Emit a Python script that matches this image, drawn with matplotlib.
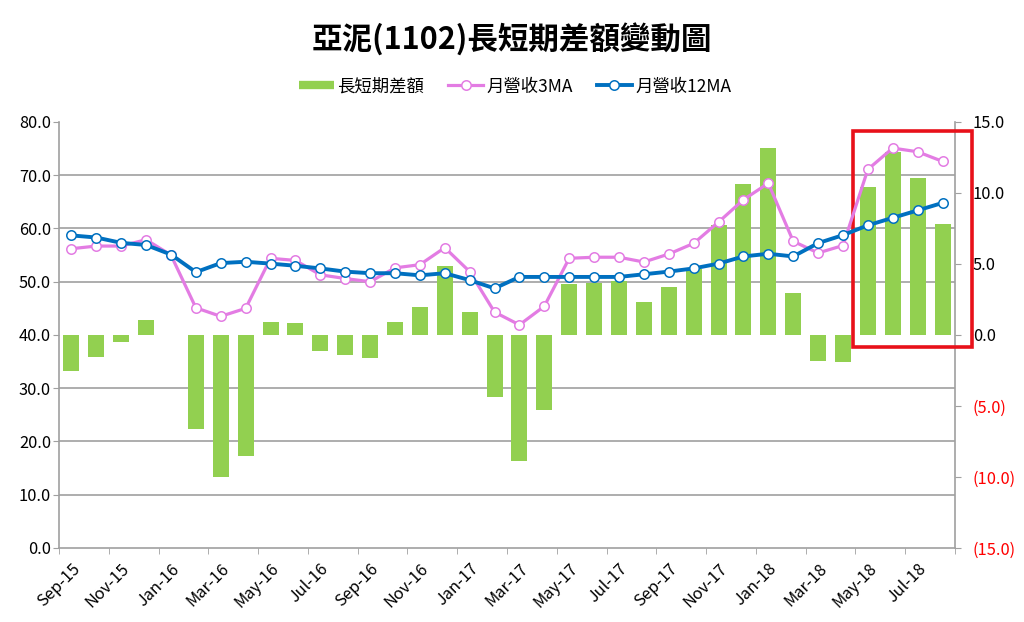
import matplotlib
matplotlib.use('Agg')
import matplotlib.pyplot as plt
from matplotlib.lines import Line2D
from matplotlib.patches import Rectangle
from matplotlib.ticker import FixedLocator
import numpy as np

plt.rcParams['font.family'] = ['Noto Sans CJK TC', 'DejaVu Sans']

# 月份 (Sep-15 ~ Aug-18)
months = ['Sep-15', 'Oct-15', 'Nov-15', 'Dec-15', 'Jan-16', 'Feb-16', 'Mar-16', 'Apr-16',
          'May-16', 'Jun-16', 'Jul-16', 'Aug-16', 'Sep-16', 'Oct-16', 'Nov-16', 'Dec-16',
          'Jan-17', 'Feb-17', 'Mar-17', 'Apr-17', 'May-17', 'Jun-17', 'Jul-17', 'Aug-17',
          'Sep-17', 'Oct-17', 'Nov-17', 'Dec-17', 'Jan-18', 'Feb-18', 'Mar-18', 'Apr-18',
          'May-18', 'Jun-18', 'Jul-18', 'Aug-18']

# 長短期差額 (右軸)
diff = [-2.55, -1.55, -0.5, 1.05, 0.03, -6.6, -10.0, -8.55,
        0.9, 0.87, -1.12, -1.4, -1.6, 0.88, 2.0, 4.84,
        1.6, -4.4, -8.9, -5.3, 3.6, 3.65, 3.8, 2.35,
        3.35, 4.65, 7.75, 10.6, 13.15, 2.97, -1.85, -1.9,
        10.45, 12.9, 11.05, 7.85]

# 月營收3MA (左軸)
ma3 = [56.2, 56.7, 56.7, 57.9, 55.0, 45.1, 43.5, 45.0,
       54.4, 54.0, 51.3, 50.6, 50.0, 52.6, 53.2, 56.4,
       51.9, 44.3, 41.9, 45.4, 54.4, 54.6, 54.6, 53.7,
       55.2, 57.2, 61.2, 65.4, 68.5, 57.6, 55.4, 56.8,
       71.1, 75.1, 74.4, 72.6]

# 月營收12MA (左軸)
ma12 = [58.7, 58.3, 57.3, 56.9, 55.1, 51.8, 53.5, 53.75,
        53.4, 53.0, 52.5, 51.9, 51.6, 51.6, 51.2, 51.6,
        50.3, 48.75, 50.9, 50.9, 50.9, 50.9, 50.9, 51.4,
        51.9, 52.5, 53.4, 54.75, 55.25, 54.75, 57.25, 58.75,
        60.6, 62.0, 63.4, 64.8]

right_ticks = [-15, -10, -5, 0, 5, 10, 15]
left_ticks = [0, 10, 20, 30, 40, 50, 60, 70, 80]

green = '#92D050'
pink = '#E37CE3'
blue = '#0070C0'
gray = '#A0A0A0'
fs = 11.8

fig = plt.figure(figsize=(10.24, 6.22), dpi=100)
ax = fig.add_axes([0.0576, 0.119, 0.875, 0.6849])  # 柱狀 (右軸)
ax2 = ax.twinx()  # 折線 (左軸)

x = np.arange(len(months))

ax.bar(x, diff, width=0.64, color=green, zorder=2)
ax.set_ylim(-15, 15)
ax.set_xlim(-0.5, len(months) - 0.5)

# 右軸
ax.yaxis.tick_right()
ax.set_yticks(right_ticks)
rlabels = []
for v in right_ticks:
    if v < 0:
        rlabels.append('(%.1f)' % abs(v))
    else:
        rlabels.append('%.1f' % v)
ax.set_yticklabels(rlabels, fontsize=fs)
for lbl, v in zip(ax.get_yticklabels(), right_ticks):
    lbl.set_color('red' if v < 0 else 'black')
ax.tick_params(axis='y', which='major', direction='out', length=4.3, color=gray, pad=8.5)

# 格線 (跟左軸對齊)
ax.yaxis.set_minor_locator(FixedLocator(np.linspace(-15, 15, len(left_ticks))))
ax.tick_params(axis='y', which='minor', length=0)
ax.grid(axis='y', which='minor', color=gray, lw=1.2, zorder=0)
ax.set_axisbelow(True)

# x軸
ax.set_xticks(x[::2])
ax.set_xticklabels(months[::2], rotation=45, ha='right', va='top',
                   rotation_mode='anchor', fontsize=fs)
ax.tick_params(axis='x', which='major', length=0, pad=9)
ax.xaxis.set_minor_locator(FixedLocator(np.arange(-0.5, len(months), 2)))
ax.tick_params(axis='x', which='minor', direction='out', length=4, color=gray)

for s in ['left', 'right', 'bottom']:
    ax.spines[s].set_color(gray)
    ax.spines[s].set_linewidth(1.2)
ax.spines['top'].set_visible(False)

# 折線
ax2.plot(x, ma3, color=pink, lw=2.3, marker='o', ms=6.8, mfc='white',
         mec=pink, mew=1.1, zorder=3)
ax2.plot(x, ma12, color=blue, lw=2.8, marker='o', ms=6.8, mfc='white',
         mec=blue, mew=1.1, zorder=4)
ax2.set_ylim(0, 80)
ax2.yaxis.tick_left()
ax2.set_yticks(left_ticks)
ax2.set_yticklabels(['%.1f' % v for v in left_ticks], fontsize=fs)
ax2.tick_params(axis='y', direction='out', length=4.3, color=gray, pad=1.5)
for s in ax2.spines.values():
    s.set_visible(False)

# 紅框
rect = Rectangle((31.4, -0.85), 4.8, 15.2, transform=ax.transData,
                 fill=False, ec='#E8111A', lw=2.6, clip_on=False, zorder=10)
ax.add_patch(rect)

fig.text(0.5, 0.936, '亞泥(1102)長短期差額變動圖', ha='center', va='center',
         fontsize=22, fontweight='bold')

handles = [Line2D([], [], color=green, lw=6, solid_capstyle='butt'),
           Line2D([], [], color=pink, lw=2.3, marker='o', ms=6.8, mfc='white', mec=pink, mew=1.1),
           Line2D([], [], color=blue, lw=2.8, marker='o', ms=6.8, mfc='white', mec=blue, mew=1.1)]
fig.legend(handles, ['長短期差額', '月營收3MA', '月營收12MA'], loc='center',
           bbox_to_anchor=(0.503, 0.861), ncol=3, frameon=False, fontsize=12.5,
           handlelength=2.0, handletextpad=0.2, columnspacing=1.4)

fig.savefig('out.png', dpi=100)
